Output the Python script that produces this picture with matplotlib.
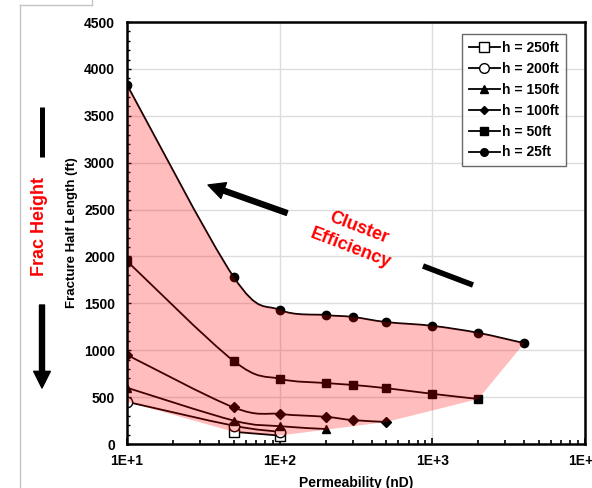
import numpy as np
import matplotlib
matplotlib.use("Agg")
import matplotlib.pyplot as plt
from matplotlib.path import Path
from matplotlib.patches import PathPatch
from matplotlib.lines import Line2D
from matplotlib.ticker import MultipleLocator, LogLocator, NullFormatter

plt.rcParams["font.family"] = ["Liberation Sans", "DejaVu Sans"]
plt.rcParams["font.weight"] = "bold"

# permeability (nD) and fracture half length (ft) for each frac height
perm_250 = [50, 100]
hl_250 = [130, 90]
perm_200 = [10, 50, 100]
hl_200 = [450, 195, 130]
perm_150 = [10, 50, 100, 200]
hl_150 = [600, 250, 190, 160]
perm_100 = [10, 50, 100, 200, 300, 500]
hl_100 = [950, 390, 320, 290, 255, 235]
perm_50 = [10, 50, 100, 200, 300, 500, 1000, 2000]
hl_50 = [1950, 885, 695, 650, 630, 595, 535, 480]
perm_25 = [10, 50, 100, 200, 300, 500, 1000, 2000, 4000]
hl_25 = [3830, 1780, 1430, 1375, 1355, 1300, 1260, 1185, 1075]

x_ticks = [10, 100, 1000, 10000]
x_tick_labels = ["1E+1", "1E+2", "1E+3", "1E+4"]

series = [
    ("h = 250ft", perm_250, hl_250, "s", "white", 7),
    ("h = 200ft", perm_200, hl_200, "o", "white", 7.5),
    ("h = 150ft", perm_150, hl_150, "^", "black", 6),
    ("h = 100ft", perm_100, hl_100, "D", "black", 5),
    ("h = 50ft", perm_50, hl_50, "s", "black", 6),
    ("h = 25ft", perm_25, hl_25, "o", "black", 6),
]


def smooth_verts(xs, ys):
    # spreadsheet-style smoothed line: cubic bezier through the points,
    # built in (log10 x, y) so it follows the log axis
    pts = np.column_stack([np.log10(xs), np.asarray(ys, float)])
    n = len(pts)
    verts = [pts[0]]
    codes = [Path.MOVETO]
    for i in range(n - 1):
        p_prev = pts[i - 1] if i > 0 else pts[i]
        p_next = pts[i + 2] if i + 2 < n else pts[i + 1]
        c1 = pts[i] + (pts[i + 1] - p_prev) / 6.0
        c2 = pts[i + 1] - (p_next - pts[i]) / 6.0
        verts += [c1, c2, pts[i + 1]]
        codes += [Path.CURVE4] * 3
    verts = np.array(verts)
    verts[:, 0] = 10 ** verts[:, 0]
    return verts, codes


fig = plt.figure(figsize=(5.92, 4.88), dpi=100)
ax = fig.add_axes([127 / 592, 1 - 444 / 488, 458 / 592, 422 / 488])
ax.set_xscale("log")
ax.set_xlim(10, 10000)
ax.set_ylim(0, 4500)

ax.grid(True, which="major", color="#dcdcdc", lw=1.0)
ax.set_axisbelow(True)

handles = []
for label, xs, ys, mk, face, ms in series:
    v, c = smooth_verts(xs, ys)
    ax.add_patch(PathPatch(Path(v, c), fill=False, edgecolor="black", lw=1.3, zorder=2))
    ax.plot(xs, ys, ls="none", marker=mk, ms=ms, mfc=face, mec="black", mew=1.0, zorder=3)
    handles.append(Line2D([], [], color="black", lw=1.3, marker=mk, ms=ms - 0.5, mfc=face,
                          mec="black", mew=1.0, label=label))

# shaded envelope between the 25ft curve and the low end of the family
v25, c25 = smooth_verts(perm_25, hl_25)
lower = [(perm_50[-1], hl_50[-1]), (perm_100[-1], hl_100[-1]),
         (perm_250[1], hl_250[1]), (perm_250[0], hl_250[0]),
         (perm_200[0], hl_200[0])]
env_verts = np.vstack([v25, np.array(lower), v25[:1]])
env_codes = c25 + [Path.LINETO] * len(lower) + [Path.CLOSEPOLY]
ax.add_patch(PathPatch(Path(env_verts, env_codes), facecolor="red", edgecolor="none",
                       alpha=0.26, zorder=4))

ax.set_xticks(x_ticks)
ax.set_xticklabels(x_tick_labels)
ax.xaxis.set_minor_locator(LogLocator(base=10, subs=np.arange(2, 10)))
ax.xaxis.set_minor_formatter(NullFormatter())
ax.yaxis.set_major_locator(MultipleLocator(500))
ax.yaxis.set_minor_locator(MultipleLocator(100))
ax.tick_params(axis="x", which="major", direction="in", length=4, width=1.2, pad=7, labelsize=10)
ax.tick_params(axis="x", which="minor", direction="in", length=3, width=1.2)
ax.tick_params(axis="y", which="major", direction="in", length=3, width=1.0, pad=8.5, labelsize=10)
ax.tick_params(axis="y", which="minor", direction="in", length=2.5, width=1.0)
for sp in ax.spines.values():
    sp.set_linewidth(1.8)
    sp.set_zorder(6)

ax.set_ylabel("Fracture Half Length (ft)", fontsize=9.5, fontweight="bold")
ax.yaxis.set_label_coords(-0.107, 0.5)
ax.set_xlabel("Permeability (nD)", fontsize=10, fontweight="bold")
ax.xaxis.set_label_coords(0.5, -0.077)

leg = ax.legend(handles=handles, loc="upper right", bbox_to_anchor=(0.958, 0.972),
                fontsize=10, frameon=True, fancybox=False, edgecolor="#444444",
                handlelength=2.2, handletextpad=0.15, labelspacing=0.5,
                borderpad=0.5, borderaxespad=0)
leg.get_frame().set_linewidth(1.0)
leg.set_zorder(7)
for t in leg.get_texts():
    t.set_fontweight("bold")

# side annotation: frac height
fig.text(40 / 592, 1 - 226 / 488, "Frac Height", color="red", fontsize=13,
         fontweight="bold", rotation=90, ha="center", va="center")
fig.add_artist(Line2D([42 / 592, 42 / 592], [1 - 107 / 488, 1 - 157 / 488],
                      transform=fig.transFigure, color="black", lw=3.6, solid_capstyle="butt"))
arrow_style = "simple,head_length=0.6,head_width=0.6,tail_width=0.18"
ax.annotate("", xy=(42, 488 - 388), xytext=(42, 488 - 305),
            xycoords="figure pixels", textcoords="figure pixels", annotation_clip=False,
            arrowprops=dict(arrowstyle=arrow_style, color="black", shrinkA=0, shrinkB=0,
                            mutation_scale=20))

# cluster efficiency annotation
fig.text(355 / 592, 1 - 238 / 488, "Cluster\nEfficiency", color="red", fontsize=13,
         fontweight="bold", rotation=-21, ha="center", va="center",
         multialignment="center", rotation_mode="anchor", linespacing=1.4)
ax.annotate("", xy=(208, 488 - 185), xytext=(287, 488 - 213),
            xycoords="figure pixels", textcoords="figure pixels", annotation_clip=False,
            arrowprops=dict(arrowstyle=arrow_style, color="black", shrinkA=0, shrinkB=0,
                            mutation_scale=20))
fig.add_artist(Line2D([423 / 592, 473 / 592], [1 - 266 / 488, 1 - 285 / 488],
                      transform=fig.transFigure, color="black", lw=4, solid_capstyle="butt"))

# slide frame lines
frame_kw = dict(transform=fig.transFigure, color="#c4c4c4", lw=1.0)
fig.add_artist(Line2D([20 / 592, 20 / 592], [1 - 5 / 488, 0], **frame_kw))
fig.add_artist(Line2D([20 / 592, 92 / 592], [1 - 5 / 488, 1 - 5 / 488], **frame_kw))
fig.add_artist(Line2D([92 / 592, 92 / 592], [1 - 5 / 488, 1], **frame_kw))

fig.savefig("out.png", dpi=100)
